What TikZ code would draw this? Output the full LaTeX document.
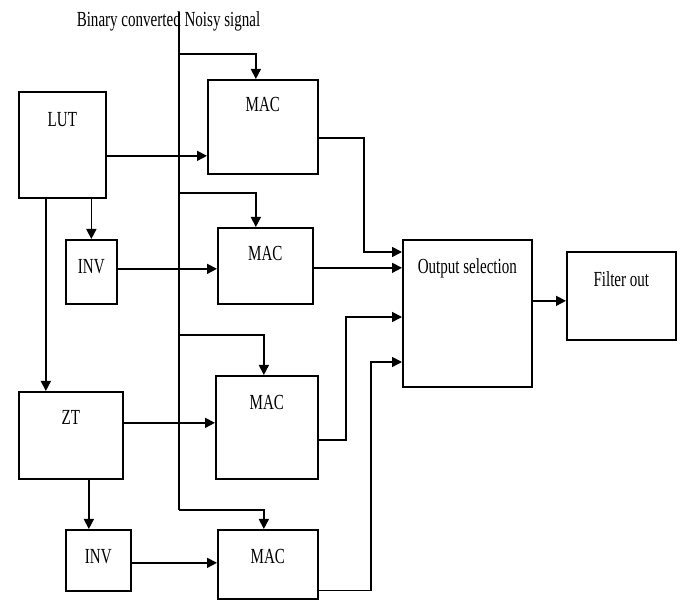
\documentclass[tikz,border=0pt]{standalone}
\usepackage{fontspec}
\setmainfont{Liberation Serif}[FakeStretch=0.7]
\usepackage{xcolor}
\usepackage{tikz}
\usetikzlibrary{positioning, arrows.meta}
\tikzset{
  blockbox/.style={draw, line width=1.7pt, inner sep=0pt, anchor=north west},
  wire/.style={line width=1.6pt},
  feed/.style={wire, -{Triangle[length=10pt, width=10pt]}}
}

\begin{document}
\begin{tikzpicture}[x=1pt, y=-1pt, font=\fontsize{21.5}{25}\selectfont]
  \useasboundingbox (0,0) rectangle (681,601);
  \node[anchor=base] (title) at (168.5,27) {Binary converted Noisy signal};
  \node[blockbox, minimum width=87pt, text height=34.5pt, text depth=71.5pt] (lut) at (18,91) {LUT};
  \node[blockbox, minimum width=51pt, text height=34pt, text depth=30pt] (inv1) at (65,239) {INV};
  \node[blockbox, minimum width=104pt, text height=33pt, text depth=54pt] (zt) at (18,391) {ZT};
  \node[blockbox, minimum width=65pt, text height=33.5pt, text depth=27.5pt] (inv2) at (65,529) {INV};
  \node[blockbox, minimum width=110pt, text height=32pt, text depth=62pt] (mac1) at (207,79) {MAC};
  \node[blockbox, minimum width=95pt, text height=33pt, text depth=43pt] (mac2) at (217,227) {MAC};
  \node[blockbox, minimum width=102pt, text height=34pt, text depth=69pt] (mac3) at (215,375) {MAC};
  \node[blockbox, minimum width=100pt, text height=33.5pt, text depth=36pt] (mac4) at (217,529) {MAC};
  \node[blockbox, minimum width=129pt, text height=34pt, text depth=113pt] (outsel) at (402,239) {Output selection};
  \node[blockbox, minimum width=109pt, text height=34.5pt, text depth=53.5pt] (filt) at (566,251) {Filter out};

  \coordinate (bustop) at (179,12);
  \coordinate (tap1) at (179,54);
  \coordinate (tap2) at (179,193);
  \coordinate (tap3) at (179,335);
  \coordinate (busend) at (179,510);
  \draw[wire] (bustop) -- (busend);
  \draw[feed] (tap1) -| ([xshift=-7pt]mac1.north);
  \draw[feed] (tap2) -| ([xshift=-9.5pt]mac2.north);
  \draw[feed] (tap3) -| ([xshift=-3pt]mac3.north);
  \draw[feed] (busend) -| ([xshift=-4pt]mac4.north);

  \draw[feed] ([yshift=-11pt]lut.east) -- ([yshift=-11pt]lut.east -| mac1.west);
  \draw[feed] (lut.south -| inv1.north) -- (inv1.north);
  \draw[feed] ([xshift=-16.5pt]lut.south) -- ([xshift=-16.5pt]lut.south |- zt.north);
  \draw[feed] ([yshift=3pt]inv1.east) -- ([yshift=3pt]inv1.east -| mac2.west);
  \draw[feed] ([yshift=12.5pt]zt.east) -- ([yshift=12.5pt]zt.east -| mac3.west);
  \draw[feed] ([xshift=18pt]zt.south) -- ([xshift=18pt]zt.south |- inv2.north);
  \draw[feed] ([yshift=-2.5pt]inv2.east) -- ([yshift=-2.5pt]inv2.east -| mac4.west);

  \draw[feed] ([yshift=-11pt]mac1.east) -- ++(45,0) |- ([yshift=-13pt]outsel.north west);
  \draw[feed] ([yshift=-2pt]mac2.east) -- ([yshift=-2pt]mac2.east -| outsel.west);
  \draw[feed] ([yshift=-12.5pt]mac3.east) -- ++(27,0) |- ([yshift=-78pt]outsel.north west);
  \draw[feed] ([yshift=-26pt]mac4.east) -- ++(52,0) |- ([yshift=-123pt]outsel.north west);
  \draw[feed] ([yshift=12.5pt]outsel.east) -- ([yshift=12.5pt]outsel.east -| filt.west);
\end{tikzpicture}
\end{document}
